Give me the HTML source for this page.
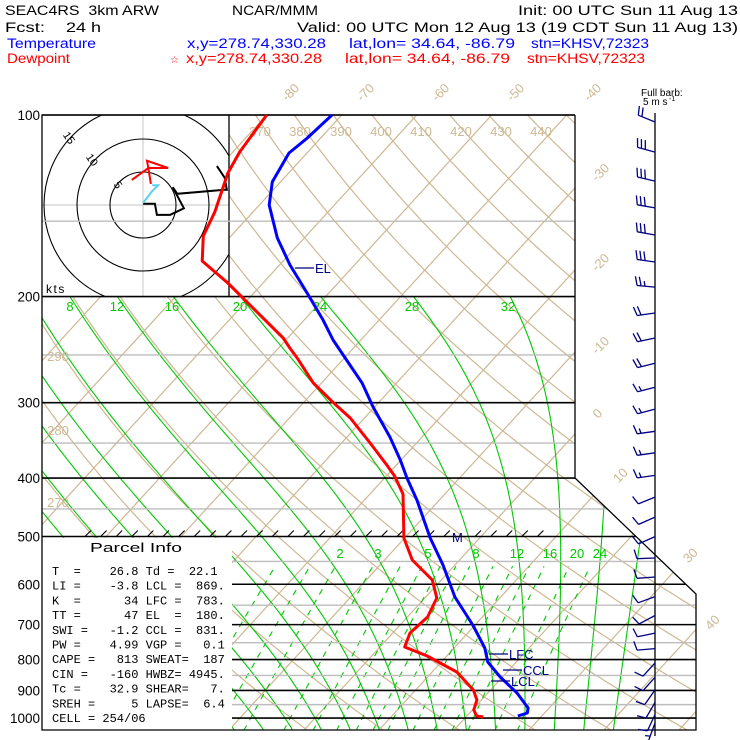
<!DOCTYPE html>
<html><head><meta charset="utf-8"><style>
html,body{margin:0;padding:0;background:#fff;}
svg{display:block;font-family:"Liberation Sans",sans-serif;}
.pre{white-space:pre;}
</style></head><body>
<svg id="chart" width="740" height="740" viewBox="0 0 740 740" xmlns="http://www.w3.org/2000/svg">
<rect width="740" height="740" fill="#fff"/>
<defs><clipPath id="plotclip"><polygon points="42,115 575,115 575,478 696,594 696,730 42,730"/></clipPath>
<clipPath id="moistclip"><rect x="42" y="296.5" width="660" height="434"/></clipPath>
<clipPath id="mixclip"><rect x="42" y="560" width="660" height="171"/></clipPath></defs>
<g id="header" font-size="13.5" fill="#000">
<text x="5" y="15" textLength="154" lengthAdjust="spacingAndGlyphs" class="pre">SEAC4RS  3km ARW</text>
<text x="232" y="15" textLength="86" lengthAdjust="spacingAndGlyphs">NCAR/MMM</text>
<text x="518" y="15" textLength="220" lengthAdjust="spacingAndGlyphs">Init: 00 UTC Sun 11 Aug 13</text>
<text x="5" y="32" textLength="40" lengthAdjust="spacingAndGlyphs">Fcst:</text>
<text x="66" y="32" textLength="35" lengthAdjust="spacingAndGlyphs">24 h</text>
<text x="297" y="32" textLength="441" lengthAdjust="spacingAndGlyphs">Valid: 00 UTC Mon 12 Aug 13 (19 CDT Sun 11 Aug 13)</text>
<g fill="#0000ff">
<text x="7" y="48" textLength="89" lengthAdjust="spacingAndGlyphs">Temperature</text>
<text x="187" y="48" textLength="139" lengthAdjust="spacingAndGlyphs">x,y=278.74,330.28</text>
<text x="349" y="48" textLength="166" lengthAdjust="spacingAndGlyphs">lat,lon= 34.64, -86.79</text>
<text x="531" y="48" textLength="118" lengthAdjust="spacingAndGlyphs">stn=KHSV,72323</text>
</g>
<g fill="#ff0000">
<text x="7" y="63" textLength="63" lengthAdjust="spacingAndGlyphs">Dewpoint</text>
<text x="170" y="63" font-size="10">☆</text>
<text x="186" y="63" textLength="136" lengthAdjust="spacingAndGlyphs">x,y=278.74,330.28</text>
<text x="345" y="63" textLength="165" lengthAdjust="spacingAndGlyphs">lat,lon= 34.64, -86.79</text>
<text x="527" y="63" textLength="118" lengthAdjust="spacingAndGlyphs">stn=KHSV,72323</text>
</g>
</g>
<g clip-path="url(#plotclip)">
<g id="bg"></g>
<g id="moist" clip-path="url(#moistclip)"></g>
<g id="mix" clip-path="url(#mixclip)"></g>
</g>
<g id="hodobox"></g>
<g id="plines"></g>
<g id="parcel"></g>
<g id="frame"></g>
<g id="labels"></g>
<g id="sound"></g>
<g id="barbs"></g>
</svg>
<script>
// ---- sounding data (hPa, degC) ----
const tempP=[100,109.2,115.6,129.1,141,159.9,177.3,197.3,218.7,236.1,252.9,278.2,304.9,341.9,373.3,400,435,502.9,557.5,630,701,765.3,807.3,855,909,962.4,981,992.3];
const tempT=[-71.3,-71.8,-72.4,-71.1,-68.7,-63.6,-58.6,-52.9,-47.5,-43.7,-39.9,-34.6,-30.2,-24.3,-20.1,-17.0,-13.0,-6.6,-1.6,3.9,9.7,14.1,16.2,19.7,23.9,27.2,27.7,26.8];
const dewP=[100,115.2,124.8,144.8,158.7,174.6,189.9,210.5,234.3,243.4,252.9,278.2,299.2,318,349.9,380.5,396.9,425.1,502.9,547,590.3,632.4,680,722.7,762.4,789.1,838.8,898.5,933.5,969.8,992.3,996];
const dewT=[-80.0,-79.1,-78.1,-75.1,-73.7,-70.8,-64.7,-57.8,-50.6,-48.5,-46.3,-41.1,-36.2,-31.9,-26.2,-21.3,-18.9,-15.6,-10.1,-6.3,-1.2,1.6,2.7,2.3,3.3,7.4,13.3,17.7,19.4,20.2,21.3,22.3];
// ---- winds ----
const barbP=[102.7,115.2,128.7,142.6,158.1,175.3,192.9,213,234.3,258,282.7,307.4,334.6,363.2,396,430.2,464.3,500.2,542.8,583.6,629,676,723,767,810,856,898,942,987,1019];
const barbDir=[292,285,283,280,280,278,275,262,258,256,255,255,262,262,262,248,246,246,268,266,250,242,258,265,222,222,215,210,205,200];
const barbSpd=[10,15,15,15,15,15,12.5,10,10,10,7.5,7.5,7.5,7.5,7.5,5,5,5,5,5,5,5,5,5,5,5,5,5,5,2.5];
// ---- hodograph (kts) ----
const hodoU=[0,1.8,2.1,4.1,6.2,4.5,5.2,12.4,12.7,12.4,11.2];
const hodoV=[0.2,0.2,-1.5,-1.5,-0.5,2.7,1.7,2.3,2.3,4.1,5.9];
const hodoRedU=[-1.7,0.8,0.6,3.8,0.8,1.2];
const hodoRedV=[3.8,5.6,6.7,5.6,5.6,3.2];
const hodoCyU=[0,1.4,2.3,1.4];
const hodoCyV=[0.3,2.1,3.0,3.0];
// ---- background line values ----
const isotherms=[-140,-130,-120,-110,-100,-90,-80,-70,-60,-50,-40,-30,-20,-10,0,10,20,30,40,50];
const thetas=[200,210,220,230,240,250,260,270,280,290,300,310,320,330,340,350,360,370,380,390,400,410,420,430,440,450,460,470,480,490,500];
const thetaW=[-24,-20,-16,-12,-8,-4,0,4,8,12,16,20,24,28,32,36,40];
const mixRatios=[0.4,1,1.5,2,3,4,5,6,7,8,10,12,14,16,20,24];
const pressLevels=[100,150,200,250,300,350,400,450,500,550,600,650,700,750,800,850,900,950,1000];
const pressTicks=["100","200","300","400","500","600","700","800","900","1000"];
const parcelRows=["T  =    26.8 Td =  22.1","LI =    -3.8 LCL =  869.","K  =      34 LFC =  783.","TT =      47 EL  =  180.","SWI =   -1.2 CCL =  831.","PW =    4.99 VGP =   0.1","CAPE =   813 SWEAT=  187","CIN =   -160 HWBZ= 4945.","Tc =    32.9 SHEAR=   7.","SREH =     5 LAPSE=  6.4","CELL = 254/06"];

const NS="http://www.w3.org/2000/svg";
const TAN="#cdb892", GREEN="#00c800", GREY="#bdbdbd", NAVY="#000080";
const Y=p=>115+261.9*Math.log(p/100);
const X=(t,p)=>315+7.5*t+0.915*(718-Y(p));
function mk(tag,attrs,parent){const e=document.createElementNS(NS,tag);for(const k in attrs)e.setAttribute(k,attrs[k]);parent.appendChild(e);return e;}
const g=id=>document.getElementById(id);

isotherms.forEach(t=>{
  const e=mk('line',{x1:X(t,1050),y1:Y(1050),x2:X(t,100),y2:Y(100),stroke:TAN,'stroke-width':1.2},g('bg'));
  
  
});
thetas.forEach(th=>{
  let pts=[];for(let p=1050;p>=100;p-=10){const T=th*Math.pow(p/1000,0.2857)-273.15;pts.push(X(T,p).toFixed(1)+','+Y(p).toFixed(1));}
  const e=mk('polyline',{points:pts.join(' '),fill:'none',stroke:TAN,'stroke-width':1.2},g('bg'));
  
  
});
function dTdp(T,p){const tc=T-273.15;const es=6.112*Math.exp(17.67*tc/(tc+243.5));const rs=0.622*es/(p-es);
  return (287*T+2.501e6*rs)/(p*(1005+2.501e6*2.501e6*rs*0.622/(287*T*T)));}
thetaW.forEach(tw=>{
  let T=tw+273.15,p=1000;let up=[];
  let Td=T,pd=1000;const low=[];
  while(pd<1050){const h=5;const k1=dTdp(Td,pd);const k2=dTdp(Td+k1*h,pd+h);Td+=0.5*(k1+k2)*h;pd+=h;low.push([Td,pd]);}
  up.push([T,p]);
  while(p>200){const h=-5;const k1=dTdp(T,p);const k2=dTdp(T+k1*h,p+h);T+=0.5*(k1+k2)*h;p+=h;up.push([T,p]);}
  const all=low.reverse().concat(up);
  const pts=all.map(a=>X(a[0]-273.15,a[1]).toFixed(1)+','+Y(a[1]).toFixed(1));
  const e=mk('polyline',{points:pts.join(' '),fill:'none',stroke:GREEN,'stroke-width':1.1},g('moist'));
  
  
});
mixRatios.forEach(w=>{
  let pts=[];for(let p=1050;p>=560;p-=10){const e=w*p/(622+w);const l=Math.log(e/6.112);const Td=243.5*l/(17.67-l);pts.push(X(Td,p).toFixed(1)+','+Y(p).toFixed(1));}
  const e=mk('polyline',{points:pts.join(' '),fill:'none',stroke:GREEN,'stroke-width':1.1,'stroke-dasharray':'6,6'},g('mix'));
  
  
});
(function(){
  const hb=g('hodobox');
  const r=mk('rect',{x:42,y:115,width:187,height:181,fill:'#fff'},hb);
  
  
  mk('line',{x1:42,y1:205,x2:229,y2:205,stroke:'#d0d0d0','stroke-width':1.2},hb);
  mk('line',{x1:143,y1:115,x2:143,y2:296,stroke:'#d0d0d0','stroke-width':1.2},hb);
  const cp=mk('clipPath',{id:'hclip'},hb);mk('rect',{x:42,y:115,width:187,height:181},cp);
  const cg=mk('g',{'clip-path':'url(#hclip)'},hb);
  [5,10,15].forEach(s=>{const c=mk('circle',{cx:143,cy:205,r:s*6.6,fill:'none',stroke:'#000','stroke-width':1.1},cg);
    
    });
  [['5',115,187],['10',89,162],['15',66,140]].forEach(a=>{const t=mk('text',{x:a[1],y:a[2],'font-size':11,transform:`rotate(55 ${a[1]} ${a[2]})`,'text-anchor':'middle'},hb);t.textContent=a[0];
    
    });
  const H=(u,v)=>(143+u*6.6).toFixed(1)+','+(205-v*6.6).toFixed(1);
  const pl=(U,V,col,w,name)=>{const e=mk('polyline',{points:U.map((u,i)=>H(u,V[i])).join(' '),fill:'none',stroke:col,'stroke-width':w},hb);
    
    };
  pl(hodoU,hodoV,'#000',2,'hodograph-trace');
  pl(hodoRedU,hodoRedV,'#ff0000',2,'hodograph-upper-trace');
  pl(hodoCyU,hodoCyV,'#5ad2f0',2,'hodograph-lower-trace');
  const k=mk('text',{x:46,y:293,'font-size':12,'letter-spacing':'1.5'},hb);k.textContent='kts';
  
  
  mk('line',{x1:229,y1:115,x2:229,y2:296,stroke:'#000','stroke-width':1.3},hb);
})();
function rightEdge(y){if(y<=478)return 575;if(y<=594)return 575+(y-478)*121/116;return 696;}
pressLevels.forEach(p=>{
  const y=Y(p);const major=(p%100===0);
  const e=mk('line',{x1:42,y1:y,x2:rightEdge(y),y2:y,stroke:major?'#000':GREY,'stroke-width':major?1.6:1.4},g('plines'));
  
  
});
(function(){
  const pb=g('parcel');
  const r=mk('rect',{x:42.5,y:537.8,width:189.5,height:192,fill:'#fff'},pb);
  
  
  const t=mk('text',{x:90,y:552,'font-size':13,textLength:92,lengthAdjust:'spacingAndGlyphs'},pb);t.textContent='Parcel Info';
  
  
  parcelRows.forEach((s,i)=>{const e=mk('text',{x:52,y:575+i*14.7,'font-size':12,'font-family':'"Liberation Mono",monospace',class:'pre'},pb);
    e.textContent=s;
    
    });
})();
(function(){
  const f=g('frame');
  const e=mk('polyline',{points:'575,115 575,478 696,594 696,730 42,730 42,115 575,115',fill:'none',stroke:'#000','stroke-width':1.3},f);
  
  
  const y5=Y(500);
  for(let x=85;x<=552;x+=15.6){if(Math.abs(x-458)<9)continue;const h=mk('line',{x1:x,y1:y5,x2:x+6,y2:y5-6,stroke:'#000','stroke-width':1.1},f);
    
    }
})();
(function(){
  const L=g('labels');
  const txt=(s,x,y,attrs,name)=>{const e=mk('text',Object.assign({x:x,y:y},attrs),L);e.textContent=s;
    
    return e;};
  pressTicks.forEach(s=>{txt(s,40,Y(+s)+5,{'font-size':13.5,'text-anchor':'end'},'pressure-tick-label');});
  [['-80',290,92],['-70',365,92],['-60',440,92],['-50',515,92],['-40',592,92],['-30',600,172],['-20',600,262],['-10',600,345],['0',597,413],['10',620,475],['30',690,555],['40',712,622]].forEach(a=>{
    txt(a[0],a[1],a[2]+5,{'font-size':13,fill:TAN,'text-anchor':'middle',transform:`rotate(-45 ${a[1]} ${a[2]})`},'isotherm-label');});
  [['370',260],['380',300],['390',341],['400',381],['410',421],['420',461],['430',501],['440',541]].forEach(a=>{
    txt(a[0],a[1],136,{'font-size':13,fill:TAN,'text-anchor':'middle'},'theta-label');});
  [['290',356],['280',430],['270',502]].forEach(a=>{txt(a[0],58,a[1]+5,{'font-size':13,fill:TAN,'text-anchor':'middle'},'theta-label');});
  [['8',70],['12',117],['16',172],['20',240],['24',320],['28',412],['32',508]].forEach(a=>{
    txt(a[0],a[1],311,{'font-size':13,fill:GREEN,'text-anchor':'middle'},'moist-adiabat-label');});
  [['2',340],['3',378],['5',428],['8',476],['12',517],['16',550],['20',577],['24',600]].forEach(a=>{
    txt(a[0],a[1],558,{'font-size':13,fill:GREEN,'text-anchor':'middle'},'mixing-ratio-label');});
  txt('Full barb:',641,96,{'font-size':10},'barb-key');
  txt('5 m s',643,105,{'font-size':10},'barb-key-units');
  txt('-1',669,101,{'font-size':7},'barb-key-exponent');
})();
(function(){
  const S=g('sound');
  const line=(P,T,col,name)=>{const e=mk('polyline',{points:P.map((p,i)=>X(T[i],p).toFixed(1)+','+Y(p).toFixed(1)).join(' '),fill:'none',stroke:col,'stroke-width':3,'stroke-linejoin':'round'},S);
    
    };
  line(dewP,dewT,'#ff0000','dewpoint-profile');
  line(tempP,tempT,'#0000ff','temperature-profile');
  [['EL',295,268],['LFC',489,654],['CCL',503,670],['LCL',491,681]].forEach(a=>{
    mk('line',{x1:a[1],y1:a[2],x2:a[1]+19,y2:a[2],stroke:NAVY,'stroke-width':1.2},S);
    const t=mk('text',{x:a[1]+20,y:a[2]+5,'font-size':13,fill:NAVY},S);t.textContent=a[0];
    
    });
  const m=mk('text',{x:452,y:542,'font-size':13,fill:NAVY},S);m.textContent='M';
  
  
})();
(function(){
  const B=g('barbs');
  const st=mk('line',{x1:655,y1:113,x2:655,y2:736,stroke:'#000','stroke-width':1.3},B);
  
  
  barbP.forEach((p,i)=>{
    const y=Y(p),x0=655,r=barbDir[i]*Math.PI/180,sx=Math.sin(r),sy=-Math.cos(r),Ls=18;
    const px=-sy,py=sx;
    let d=`M${x0},${y.toFixed(1)} L${(x0+sx*Ls).toFixed(1)},${(y+sy*Ls).toFixed(1)}`;
    let n=Math.floor(barbSpd[i]/5),half=(barbSpd[i]%5)>=2.5,pos=Ls;
    for(let k=0;k<n;k++){const bx=x0+sx*pos,by=y+sy*pos;d+=` M${bx.toFixed(1)},${by.toFixed(1)} L${(bx+px*9+sx*2.5).toFixed(1)},${(by+py*9+sy*2.5).toFixed(1)}`;pos-=4;}
    if(half){if(n===0)pos-=4;const bx=x0+sx*pos,by=y+sy*pos;d+=` M${bx.toFixed(1)},${by.toFixed(1)} L${(bx+px*5+sx*1.3).toFixed(1)},${(by+py*5+sy*1.3).toFixed(1)}`;}
    const e=mk('path',{d:d,fill:'none',stroke:NAVY,'stroke-width':1.3},B);
    
    
  });
})();
</script>
</body></html>
